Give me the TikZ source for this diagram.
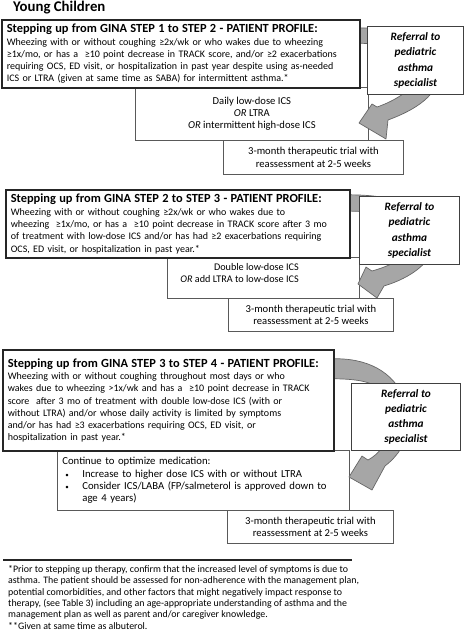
\documentclass[tikz,border=0pt]{standalone}
\usepackage{fontspec}
\setmainfont{Carlito}
\begin{document}
\begin{tikzpicture}[x=1pt,y=-1pt,
  profile/.style={draw=black!85, line width=1.6pt, fill=white, anchor=north west,
    inner xsep=5pt, inner ysep=0pt, align=left, font=\fontsize{10}{12.2}\selectfont},
  tbox/.style={draw=black!65, line width=0.8pt, fill=white, anchor=north west,
    align=center, inner sep=0pt, font=\fontsize{10.6}{12.2}\selectfont},
  rbox/.style={draw=black!75, line width=0.9pt, fill=white, anchor=north west,
    align=center, inner sep=0pt, font=\fontsize{11.3}{15.3}\selectfont\bfseries\itshape},
  garrow/.style={fill=black!35, draw=black!60, line width=0.7pt, line join=round},
  ttl/.style={font=\fontsize{12.4}{13}\selectfont\bfseries}
]
\useasboundingbox (0,0) rectangle (466,641);

\node[anchor=west, inner sep=0pt, font=\fontsize{14.8}{16}\selectfont\bfseries] (yc) at (13,8) {Young Children};

% treatment and trial boxes
\node[tbox, minimum width=233pt, minimum height=53pt] (t1) at (135,87)
  {Daily low-dose ICS\\ \textit{OR} LTRA\\ \textit{OR} intermittent high-dose ICS};
\node[tbox, minimum width=180pt, minimum height=34pt] (c1) at (223,140)
  {3-month therapeutic trial with\\ reassessment at 2-5 weeks};

\node[tbox, minimum width=192pt, minimum height=41pt] (t2) at (167,257) {};
\node[anchor=north east, align=right, inner sep=0pt, font=\fontsize{10.2}{12.2}\selectfont] (t2txt) at (299,263)
  {Double low-dose ICS\\ \textit{OR} add LTRA to low-dose ICS};
\node[tbox, minimum width=165pt, minimum height=33pt] (c2) at (228,298)
  {3-month therapeutic trial with\\ reassessment at 2-5 weeks};

\node[tbox, align=left, minimum width=292pt, minimum height=60pt, text width=282pt, inner xsep=5pt,
      font=\fontsize{10.7}{12.3}\selectfont] (t3) at (57,450)
  {Continue to optimize medication:\\
   \hspace*{3pt}\makebox[17pt][l]{\fontsize{7}{7}\selectfont\textbullet}Increase to higher dose ICS with or without LTRA\\
   \hspace*{3pt}\makebox[17pt][l]{\fontsize{7}{7}\selectfont\textbullet}Consider ICS/LABA (FP/salmeterol is approved down to\\
   \hspace*{20pt}age 4 years)};
\node[tbox, minimum width=166pt, minimum height=33pt] (c3) at (227,510)
  {3-month therapeutic trial with\\ reassessment at 2-5 weeks};

% curved block arrows
\path[garrow] (345,28) .. controls (400,26) and (440,40) .. (440,70)
  .. controls (440,95) and (415,110) .. (388,120) -- (386,139) -- (359,123) -- (372,104) -- (377,107)
  .. controls (392,102) and (420,88) .. (420,68) .. controls (420,50) and (395,43) .. (345,43) -- cycle;

\path[garrow] (340,195) .. controls (395,193) and (436,208) .. (436,235)
  .. controls (436,262) and (410,278) .. (384,286) -- (377,298) -- (358,284) -- (366,267) -- (372,271)
  .. controls (390,266) and (416,255) .. (416,235) .. controls (416,218) and (390,211) .. (340,211) -- cycle;

\path[garrow] (318,360) .. controls (355,355) and (385,365) .. (400,390)
  .. controls (415,415) and (412,445) .. (385,466) -- (372,490) -- (349,477) -- (362,456) -- (368,460)
  .. controls (390,448) and (396,420) .. (388,398) .. controls (378,380) and (355,378) .. (318,379) -- cycle;

% profile boxes
\node[profile, minimum width=358pt, minimum height=68pt, text width=348pt] (p1) at (1,19)
  {{\fontsize{12.4}{13}\selectfont\bfseries Stepping up from GINA STEP 1 to STEP 2 - PATIENT PROFILE:}\\[0.5pt]
   Wheezing with or without coughing ≥2x/wk or who wakes due to wheezing\\
   ≥1x/mo, or has a \ ≥10 point decrease in TRACK score, and/or ≥2 exacerbations\\
   requiring OCS, ED visit, or hospitalization in past year despite using as-needed\\
   ICS or LTRA (given at same time as SABA) for intermittent asthma.*};
\node[rbox, minimum width=96pt, minimum height=68pt] (s1) at (367,26)
  {Referral to\\ pediatric\\ asthma\\ specialist};

\node[profile, minimum width=344pt, minimum height=68pt, text width=334pt] (p2) at (5,189)
  {{\fontsize{12.4}{13}\selectfont\bfseries Stepping up from GINA STEP 2 to STEP 3 - PATIENT PROFILE:}\\[0.5pt]
   Wheezing with or without coughing ≥2x/wk or who wakes due to\\
   wheezing \ ≥1x/mo, or has a \ ≥10 point decrease in TRACK score after 3 mo\\
   of treatment with low-dose ICS and/or has had ≥2 exacerbations requiring\\
   OCS, ED visit, or hospitalization in past year.*};
\node[rbox, minimum width=100pt, minimum height=68pt] (s2) at (359,196)
  {Referral to\\ pediatric\\ asthma\\ specialist};

\node[profile, minimum width=331pt, minimum height=101pt, text width=321pt] (p3) at (2,349)
  {{\fontsize{12.4}{13}\selectfont\bfseries Stepping up from GINA STEP 3 to STEP 4 - PATIENT PROFILE:}\\[0.5pt]
   Wheezing with or without coughing throughout most days or who\\
   wakes due to wheezing >1x/wk and has a \ ≥10 point decrease in TRACK\\
   score \ after 3 mo of treatment with double low-dose ICS (with or\\
   without LTRA) and/or whose daily activity is limited by symptoms\\
   and/or has had ≥3 exacerbations requiring OCS, ED visit, or\\
   hospitalization in past year.*};
\node[rbox, minimum width=109pt, minimum height=67pt] (s3) at (351,383)
  {Referral to\\ pediatric\\ asthma\\ specialist};

% footnote
\coordinate (ruleL) at (3,560);
\coordinate (ruleR) at (352,560);
\draw[line width=2.6pt, black!85] (ruleL) -- (ruleR);
\node[anchor=north west, align=left, inner sep=0pt, font=\fontsize{9.9}{11.4}\selectfont] (fn) at (8,565)
  {*Prior to stepping up therapy, confirm that the increased level of symptoms is due to\\
   asthma. The patient should be assessed for non-adherence with the management plan,\\
   potential comorbidities, and other factors that might negatively impact response to\\
   therapy, (see Table 3) including an age-appropriate understanding of asthma and the\\
   management plan as well as parent and/or caregiver knowledge.\\
   **Given at same time as albuterol.};
\end{tikzpicture}
\end{document}
